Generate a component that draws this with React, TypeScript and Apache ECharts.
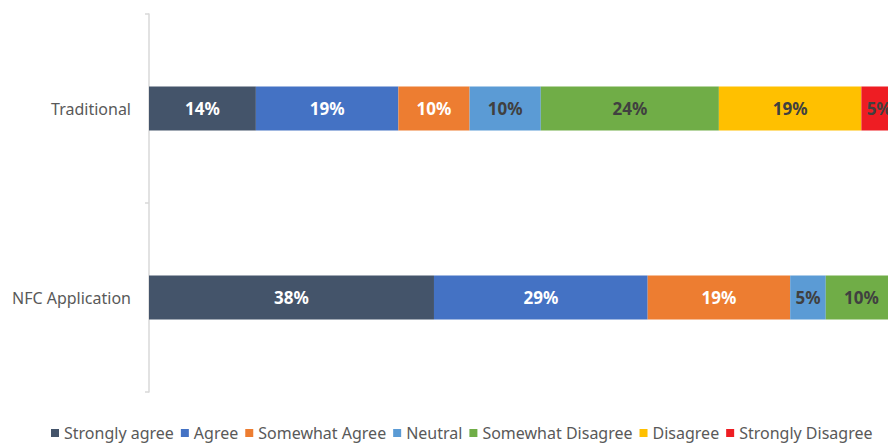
import React, { useEffect, useRef } from "react";
import * as echarts from "echarts";

const categories = ["Traditional", "NFC Application"];
const seriesNames = [
  "Strongly agree",
  "Agree",
  "Somewhat Agree",
  "Neutral",
  "Somewhat Disagree",
  "Disagree",
  "Strongly Disagree",
];
// percentage values per response level: [Traditional, NFC Application]
const stronglyAgree = [14.29, 38.1];
const agree = [19.05, 28.57];
const somewhatAgree = [9.52, 19.05];
const neutral = [9.52, 4.76];
const somewhatDisagree = [23.81, 9.52];
const disagree = [19.05, 0];
const stronglyDisagree = [4.76, 0];

const seriesValues = [
  stronglyAgree,
  agree,
  somewhatAgree,
  neutral,
  somewhatDisagree,
  disagree,
  stronglyDisagree,
];
const colors = ["#44546A", "#4472C4", "#ED7D31", "#5B9BD5", "#70AD47", "#FFC000", "#EE1D23"];
const labelColors = ["#FFFFFF", "#FFFFFF", "#FFFFFF", "#404040", "#404040", "#404040", "#404040"];

const FONT = "Noto Sans";

export default function App() {
  const ref = useRef<HTMLDivElement>(null);
  useEffect(() => {
    if (!ref.current) return;
    const chart = echarts.init(ref.current, null, { renderer: "svg" });
    chart.setOption({
      animation: false,
      backgroundColor: "#FFFFFF",
      grid: { left: 149, right: 0, top: 14, height: 378 },
      xAxis: {
        type: "value",
        min: 0,
        max: 98.8,
        show: false,
      },
      yAxis: {
        type: "category",
        data: categories,
        inverse: true,
        axisLine: { show: true, lineStyle: { color: "#D9D9D9", width: 1.5 } },
        axisTick: { show: true, length: 4, lineStyle: { color: "#D9D9D9", width: 1.5 } },
        axisLabel: { color: "#595959", fontSize: 16, fontFamily: FONT, margin: 18 },
        splitLine: { show: false },
      },
      legend: {
        left: 51,
        top: 425,
        padding: 0,
        itemWidth: 8,
        itemHeight: 8,
        itemGap: 7,
        icon: "rect",
        textStyle: { color: "#595959", fontSize: 16, fontFamily: FONT },
        data: seriesNames,
      },
      series: seriesNames.map((name, i) => ({
        name,
        type: "bar",
        stack: "total",
        barWidth: 44,
        clip: false,
        data: seriesValues[i],
        itemStyle: { color: colors[i] },
        label: {
          show: true,
          position: "inside",
          color: labelColors[i],
          fontSize: 17,
          fontWeight: "bold",
          fontFamily: FONT,
          formatter: (p: any) => (p.value > 0 ? Math.round(p.value) + "%" : ""),
        },
      })),
    });
    return () => chart.dispose();
  }, []);
  return (
    <div
      ref={ref}
      style={{ position: "fixed", left: 0, top: 0, width: 888, height: 443 }}
    />
  );
}
